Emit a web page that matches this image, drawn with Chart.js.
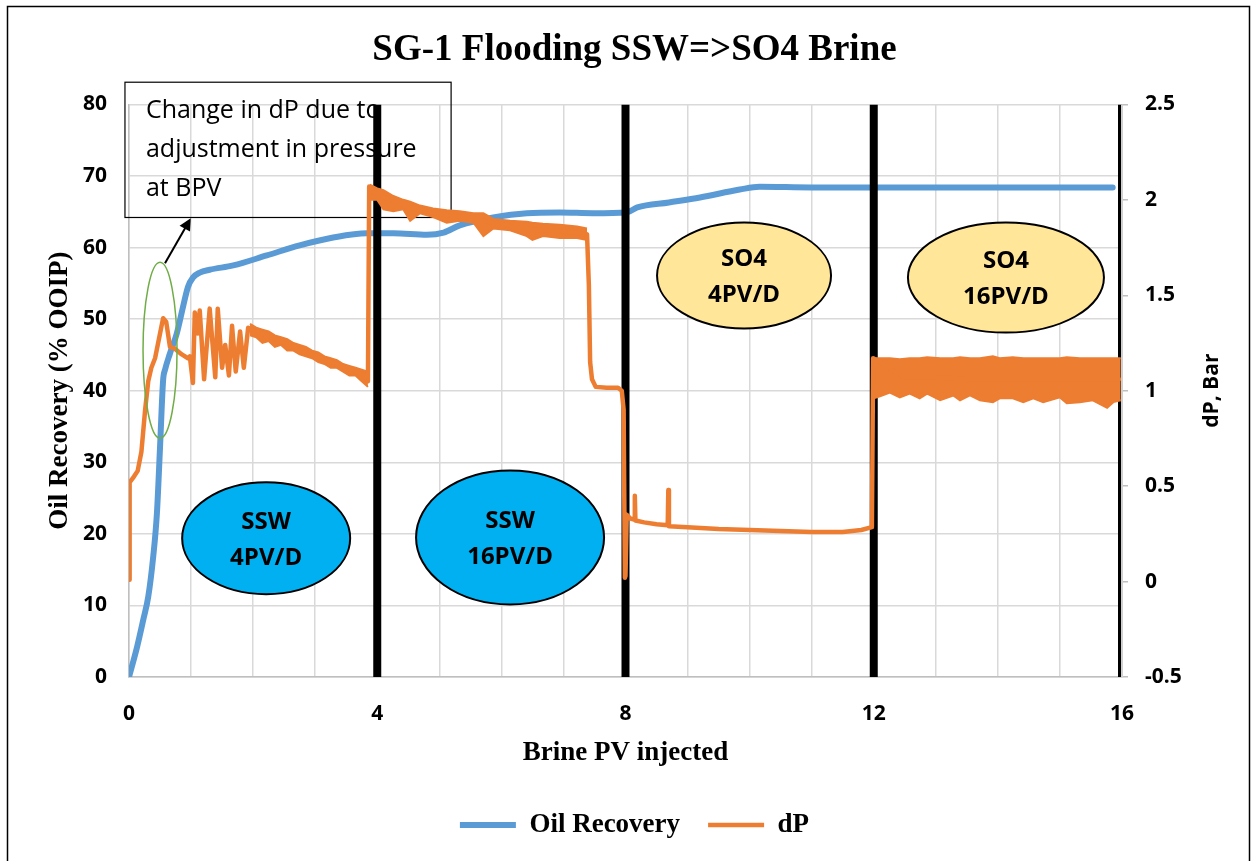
<!DOCTYPE html>
<html>
<head>
<meta charset="utf-8">
<title>SG-1 Flooding SSW=&gt;SO4 Brine</title>
<script src="https://cdn.jsdelivr.net/npm/chart.js@4.4.1/dist/chart.umd.min.js"></script>
<style>
  html, body { margin: 0; padding: 0; background: #fff; }
  #wrap { width: 1255px; height: 861px; }
</style>
</head>
<body>
<div id="wrap"><canvas id="chart" width="1255" height="861"></canvas></div>
<script>
// oil recovery, % OOIP vs brine PV injected
const oilPV  = [0, 0.13, 0.23, 0.31, 0.39, 0.45, 0.50, 0.55, 0.58, 0.66, 0.77, 0.87, 0.95, 1.03, 1.14, 1.3, 1.68, 2.22, 2.75, 3.29, 3.83, 4.26, 4.8, 5.07, 5.33, 5.87, 6.41, 6.94, 7.48, 8.02, 8.19, 8.7, 9.2, 9.84, 10.16, 11, 12, 13, 14, 15, 15.85];
const oilRec = [0, 4.2, 8.0, 11.2, 16.8, 22.9, 32.1, 41.5, 42.9, 45.2, 48.0, 51.7, 54.5, 55.8, 56.5, 56.9, 57.5, 58.9, 60.3, 61.4, 62.0, 62.0, 61.8, 62.1, 63.1, 64.2, 64.8, 64.9, 64.8, 64.9, 65.6, 66.3, 67.0, 68.1, 68.5, 68.4, 68.4, 68.4, 68.4, 68.4, 68.4];

// dP, bar (main trace)
const dpPV = [0.00, 0.01, 0.08, 0.14, 0.20, 0.26, 0.31, 0.36, 0.42, 0.50, 0.55, 0.60, 0.66, 0.74, 0.85, 0.95, 0.98, 1.03, 1.06, 1.11, 1.14, 1.21, 1.30, 1.39, 1.43, 1.50, 1.55, 1.61, 1.66, 1.72, 1.79, 1.85, 1.92, 1.98,
  2.3, 2.7, 3.1, 3.5, 3.8, 3.85, 3.87, 3.89, 4.0, 4.5, 5.0, 5.5, 6.0, 6.5, 7.0, 7.38,
  7.41, 7.43, 7.46, 7.52, 7.70, 7.88, 7.94, 7.97, 7.99, 8.00, 8.02, 8.08, 8.14, 8.15, 8.16, 8.3, 8.5, 8.68, 8.69, 8.70, 9.0, 9.5, 10.0, 10.5, 11.0, 11.5, 11.8, 11.97,
  11.99, 12.5, 13.0, 13.5, 14.0, 14.5, 15.0, 15.5, 15.95];
const dpBar = [0.01, 0.52, 0.55, 0.58, 0.68, 0.90, 1.05, 1.12, 1.17, 1.30, 1.38, 1.36, 1.23, 1.22, 1.19, 1.17, 1.18, 1.04, 1.41, 1.30, 1.42, 1.06, 1.43, 1.07, 1.43, 1.12, 1.24, 1.08, 1.34, 1.10, 1.31, 1.12, 1.33, 1.32,
  1.28, 1.22, 1.17, 1.12, 1.08, 1.05, 2.07, 2.05, 2.03, 1.96, 1.925, 1.905, 1.87, 1.845, 1.835, 1.82,
  1.55, 1.15, 1.06, 1.02, 1.015, 1.015, 1.00, 0.90, 0.02, 0.03, 0.35, 0.33, 0.325, 0.45, 0.32, 0.31, 0.30, 0.295, 0.48, 0.29, 0.285, 0.275, 0.27, 0.265, 0.26, 0.26, 0.27, 0.285,
  1.17, 1.07, 1.07, 1.06, 1.06, 1.06, 1.06, 1.06, 1.06];

// noisy stretches of dP: upper and lower edge of the trace
const bandA_PV = [1.95, 2.05, 2.15, 2.25, 2.35, 2.45, 2.55, 2.65, 2.75, 2.85, 2.95, 3.05, 3.15, 3.25, 3.35, 3.45, 3.55, 3.65, 3.75, 3.85];
const bandA_Hi = [1.35, 1.33, 1.32, 1.31, 1.29, 1.28, 1.27, 1.25, 1.24, 1.23, 1.21, 1.20, 1.18, 1.17, 1.16, 1.14, 1.13, 1.12, 1.11, 1.10];
const bandA_Lo = [1.29, 1.28, 1.25, 1.26, 1.23, 1.24, 1.21, 1.21, 1.19, 1.18, 1.17, 1.15, 1.14, 1.12, 1.12, 1.10, 1.08, 1.08, 1.05, 1.02];

const bandB_PV = [3.88, 4.00, 4.10, 4.26, 4.42, 4.53, 4.69, 4.90, 5.12, 5.33, 5.55, 5.71, 5.87, 6.14, 6.41, 6.50, 6.67, 6.94, 7.22, 7.38];
const bandB_Hi = [2.08, 2.06, 2.05, 2.02, 2.00, 1.99, 1.97, 1.955, 1.945, 1.94, 1.93, 1.93, 1.90, 1.89, 1.885, 1.88, 1.875, 1.87, 1.86, 1.85];
const bandB_Lo = [2.00, 2.00, 1.95, 1.94, 1.95, 1.89, 1.93, 1.91, 1.88, 1.89, 1.88, 1.81, 1.85, 1.84, 1.81, 1.79, 1.81, 1.80, 1.80, 1.79];

const bandD_PV = [12.00, 12.10, 12.26, 12.42, 12.58, 12.74, 12.86, 13.07, 13.28, 13.39, 13.55, 13.71, 13.92, 14.03, 14.24, 14.41, 14.57, 14.73, 15.00, 15.11, 15.32, 15.53, 15.76, 15.86, 15.98];
const bandD_Hi = [1.17, 1.17, 1.17, 1.165, 1.17, 1.17, 1.175, 1.17, 1.17, 1.175, 1.17, 1.17, 1.18, 1.17, 1.175, 1.17, 1.17, 1.17, 1.17, 1.175, 1.17, 1.17, 1.17, 1.17, 1.17];
const bandD_Lo = [0.96, 0.97, 0.99, 0.965, 0.985, 0.96, 0.985, 0.95, 0.975, 0.95, 0.975, 0.95, 0.94, 0.96, 0.96, 0.94, 0.96, 0.94, 0.965, 0.935, 0.94, 0.95, 0.91, 0.94, 0.95];

// brine switch points (PV)
const switchPV = [4, 8, 12, 16];

const BLUE = '#5B9BD5';
const ORANGE = '#ED7D31';
const SERIF = "'Liberation Serif', 'Times New Roman', serif";
const SANS = "'Open Sans', 'Noto Sans', sans-serif";

const pts = (xs, ys) => xs.map((x, i) => ({ x: x, y: ys[i] }));

function band(pv, hi, lo) {
  const base = { type: 'line', yAxisID: 'y1', borderColor: ORANGE, backgroundColor: ORANGE, borderWidth: 2,
    pointRadius: 0, tension: 0, order: 0, label: '' };
  return [
    Object.assign({}, base, { data: pts(pv, hi), fill: false }),
    Object.assign({}, base, { data: pts(pv, lo), fill: '-1' })
  ];
}

const switchLines = [];
switchPV.forEach(b => { switchLines.push({ x: b, y: 0 }, { x: b, y: 80 }, { x: b, y: null }); });

// annotations (data coords for centres)
const phaseNotes = [
  { text: ['SSW', '4PV/D'], pv: 2.21, rec: 19.4, rx: 84, ry: 56, fill: '#00B0F0' },
  { text: ['SSW', '16PV/D'], pv: 6.14, rec: 19.5, rx: 94, ry: 67, fill: '#00B0F0' },
  { text: ['SO4', '4PV/D'], pv: 9.91, rec: 56.1, rx: 87, ry: 53, fill: '#FFE699' },
  { text: ['SO4', '16PV/D'], pv: 14.13, rec: 55.8, rx: 98, ry: 55, fill: '#FFE699' }
];
const noteLines = ['Change in dP due to', 'adjustment in pressure', 'at BPV'];

const notesPlugin = {
  id: 'notes',
  beforeDraw(chart) {
    const ctx = chart.ctx;
    ctx.save();
    ctx.strokeStyle = '#000';
    ctx.lineWidth = 1.5;
    ctx.strokeRect(7.5, 6.5, 1242, 900);
    ctx.restore();
  },
  beforeDatasetsDraw(chart) {
    const { ctx, scales: { x, y } } = chart;
    ctx.save();
    // text box
    const bx0 = x.getPixelForValue(-0.065), bx1 = x.getPixelForValue(5.19);
    const by0 = y.getPixelForValue(83.1), by1 = y.getPixelForValue(64.2);
    ctx.strokeStyle = '#000';
    ctx.lineWidth = 1.2;
    ctx.strokeRect(bx0, by0, bx1 - bx0, by1 - by0);
    ctx.fillStyle = '#000';
    ctx.font = '25px ' + SANS;
    ctx.textAlign = 'left';
    ctx.textBaseline = 'middle';
    noteLines.forEach((t, i) => ctx.fillText(t, bx0 + 21, by0 + 29 + i * 39));
    // phase ellipses
    phaseNotes.forEach(n => {
      const cx = x.getPixelForValue(n.pv), cy = y.getPixelForValue(n.rec);
      ctx.beginPath();
      ctx.ellipse(cx, cy, n.rx, n.ry, 0, 0, Math.PI * 2);
      ctx.fillStyle = n.fill;
      ctx.fill();
      ctx.lineWidth = 2;
      ctx.strokeStyle = '#000';
      ctx.stroke();
      ctx.fillStyle = '#000';
      ctx.font = 'bold 24px ' + SANS;
      ctx.textAlign = 'center';
      ctx.fillText(n.text[0], cx, cy - 16);
      ctx.fillText(n.text[1], cx, cy + 20);
    });
    ctx.restore();
  },
  afterDatasetsDraw(chart) {
    const { ctx, chartArea, scales: { x, y } } = chart;
    ctx.save();
    // right axis line over the last switch line
    ctx.strokeStyle = '#D0D0D0';
    ctx.lineWidth = 2;
    ctx.beginPath();
    ctx.moveTo(chartArea.right, chartArea.top);
    ctx.lineTo(chartArea.right, chartArea.bottom);
    ctx.stroke();
    // green ellipse round the dP hump
    const gx = x.getPixelForValue(0.5), gy = y.getPixelForValue(45.65);
    ctx.beginPath();
    ctx.ellipse(gx, gy, 17, 88, 0, 0, Math.PI * 2);
    ctx.strokeStyle = '#70AD47';
    ctx.lineWidth = 1.5;
    ctx.stroke();
    // arrow to text box
    const ax0 = x.getPixelForValue(0.58), ay0 = y.getPixelForValue(57.8);
    const ax1 = x.getPixelForValue(0.995), ay1 = y.getPixelForValue(64.1);
    const ang = Math.atan2(ay1 - ay0, ax1 - ax0);
    ctx.strokeStyle = '#000';
    ctx.fillStyle = '#000';
    ctx.lineWidth = 2;
    ctx.beginPath();
    ctx.moveTo(ax0, ay0);
    ctx.lineTo(ax1 - 8 * Math.cos(ang), ay1 - 8 * Math.sin(ang));
    ctx.stroke();
    ctx.beginPath();
    ctx.moveTo(ax1, ay1);
    ctx.lineTo(ax1 - 12 * Math.cos(ang) + 6 * Math.sin(ang), ay1 - 12 * Math.sin(ang) - 6 * Math.cos(ang));
    ctx.lineTo(ax1 - 12 * Math.cos(ang) - 6 * Math.sin(ang), ay1 - 12 * Math.sin(ang) + 6 * Math.cos(ang));
    ctx.closePath();
    ctx.fill();
    // right axis title, reading upwards
    ctx.translate(1212, (chartArea.top + chartArea.bottom) / 2);
    ctx.rotate(-Math.PI / 2);
    ctx.font = 'bold 21px ' + SANS;
    ctx.textAlign = 'center';
    ctx.textBaseline = 'middle';
    ctx.fillText('dP, Bar', 0, 0);
    ctx.restore();
  }
};

Chart.defaults.color = '#000';

new Chart(document.getElementById('chart'), {
  type: 'line',
  data: {
    datasets: [
      { label: 'Oil Recovery', data: pts(oilPV, oilRec), yAxisID: 'y', borderColor: BLUE, backgroundColor: BLUE,
        borderWidth: 6, borderCapStyle: 'round', pointRadius: 0, cubicInterpolationMode: 'monotone', order: 2 },
      { label: 'dP', data: pts(dpPV, dpBar), yAxisID: 'y1', borderColor: ORANGE, backgroundColor: ORANGE,
        borderWidth: 4.5, borderCapStyle: 'round', borderJoinStyle: 'round', pointRadius: 0, tension: 0, order: 0 },
      ...band(bandA_PV, bandA_Hi, bandA_Lo),
      ...band(bandB_PV, bandB_Hi, bandB_Lo),
      ...band(bandD_PV, bandD_Hi, bandD_Lo),
      { label: '', data: switchLines, yAxisID: 'y', borderColor: '#000', borderWidth: 8, pointRadius: 0,
        spanGaps: false, order: 1 }
    ]
  },
  options: {
    responsive: false,
    animation: false,
    layout: { padding: { left: 44, right: 30, top: 0, bottom: 12.5 } },
    plugins: {
      tooltip: { enabled: false },
      title: {
        display: true,
        text: 'SG-1 Flooding SSW=>SO4 Brine',
        font: { family: SERIF, size: 37, weight: 'bold' },
        padding: { top: 28, bottom: 32 },
        color: '#000'
      },
      legend: {
        position: 'bottom',
        labels: {
          usePointStyle: true,
          pointStyle: 'line',
          pointStyleWidth: 56,
          padding: 28,
          font: { family: SERIF, size: 27, weight: 'bold' },
          color: '#000',
          filter: item => item.text !== '',
          sort: (a, b) => a.datasetIndex - b.datasetIndex
        }
      }
    },
    scales: {
      x: {
        type: 'linear',
        min: 0, max: 16,
        afterFit: s => { s.height = 106.5; },
        ticks: { stepSize: 1, autoSkip: false, maxRotation: 0, padding: 24,
          font: { family: SANS, size: 21, weight: 'bold' },
          callback: v => (v % 4 === 0 ? v : '') },
        grid: { color: '#D9D9D9', lineWidth: 1.5, drawTicks: false },
        border: { color: '#BFBFBF', width: 1.5 },
        title: { display: true, text: 'Brine PV injected', padding: { top: 0, bottom: 14.3 },
          font: { family: SERIF, size: 27, weight: 'bold' } }
      },
      y: {
        position: 'left',
        min: 0, max: 80,
        afterFit: s => { s.width = 85; },
        ticks: { stepSize: 10, padding: 22, font: { family: SANS, size: 21, weight: 'bold' } },
        grid: { color: '#D9D9D9', lineWidth: 1.5, drawTicks: false },
        border: { color: '#BFBFBF', width: 1.5 },
        title: { display: true, text: 'Oil Recovery (% OOIP)', padding: 0,
          font: { family: SERIF, size: 27, weight: 'bold' } }
      },
      y1: {
        position: 'right',
        min: -0.5, max: 2.5,
        afterFit: s => { s.width = 103; },
        ticks: { stepSize: 0.5, padding: 17, font: { family: SANS, size: 21, weight: 'bold' },
          callback: v => String(v) },
        grid: { drawOnChartArea: false, drawTicks: true, tickLength: 6, color: '#BFBFBF', lineWidth: 1.5 },
        border: { display: false }
      }
    }
  },
  plugins: [notesPlugin]
});
</script>
</body>
</html>
